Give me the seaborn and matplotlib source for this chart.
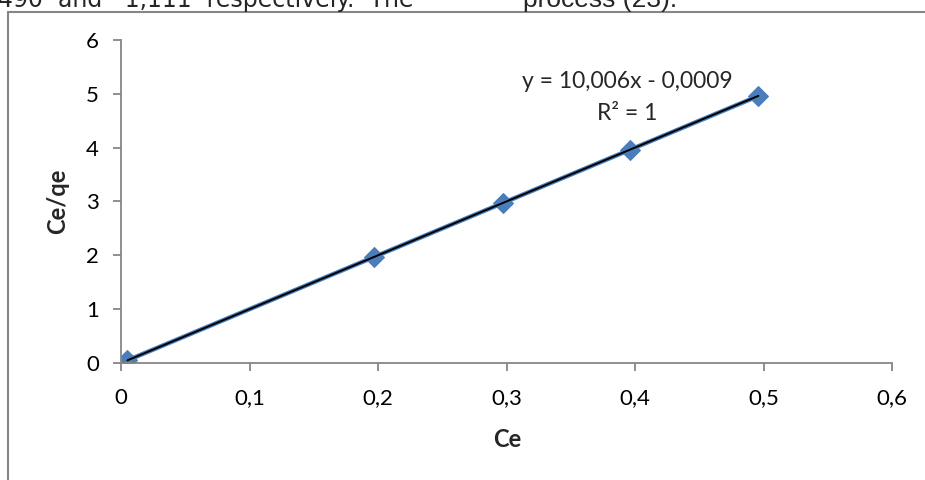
import numpy as np
import pandas as pd
import seaborn as sns
import matplotlib.pyplot as plt
from matplotlib.lines import Line2D

# values
ce = [0.005, 0.197, 0.297, 0.396, 0.496]
ce_qe = [0.049, 1.97, 2.97, 3.96, 4.96]
slope = 10.006
intercept = -0.0009
r_squared = 1
x_ticks = [0, 0.1, 0.2, 0.3, 0.4, 0.5, 0.6]
y_ticks = [0, 1, 2, 3, 4, 5, 6]

sns.set_style('ticks')
plt.rcParams['font.family'] = ['Lato', 'DejaVu Sans']

W, H = 925, 480
fig = plt.figure(figsize=(W / 100, H / 100), dpi=100)
ax = fig.add_axes([121 / W, 1 - 363 / H, 771 / W, 323 / H])

df = pd.DataFrame({'Ce': ce, 'Ce/qe': ce_qe})

# data series: blue line with diamond markers
sns.lineplot(data=df, x='Ce', y='Ce/qe', ax=ax, color='#4a7ebb', linewidth=3.2,
             marker='D', markersize=10.5, markeredgecolor='#4a7ebb', sort=False)

# linear trendline in black
trend_x = np.array([min(ce), max(ce)])
ax.plot(trend_x, slope * trend_x + intercept, color='black', linewidth=1.4)

ax.set_xlim(0, 0.6)
ax.set_ylim(0, 6)
ax.set_xticks(x_ticks)
ax.set_yticks(y_ticks)
ax.set_xticklabels([('%g' % t).replace('.', ',') for t in x_ticks])
ax.set_yticklabels([str(t) for t in y_ticks])

grey = '#868686'
for side in ['top', 'right']:
    ax.spines[side].set_visible(False)
for side in ['left', 'bottom']:
    ax.spines[side].set_color(grey)
    ax.spines[side].set_linewidth(1.3)
ax.tick_params(axis='both', colors=grey, labelcolor='black', length=6, width=1.3,
               labelsize=16)
ax.tick_params(axis='y', pad=10)
ax.tick_params(axis='x', pad=12)

ax.set_xlabel('Ce', fontsize=17, fontweight='bold')
ax.set_ylabel('Ce/qe', fontsize=17, fontweight='bold')
ax.xaxis.set_label_coords((507 - 121) / 771, -(428 - 363) / 323)
ax.yaxis.set_label_coords(-(121 - 69) / 771, (363 - 201) / 323)

eq = 'y = {}x - {}'.format(('%.3f' % slope).replace('.', ','),
                           ('%.4f' % abs(intercept)).replace('.', ','))
fig.text(627 / W, 1 - 88 / H, eq, ha='center', va='baseline', fontsize=16.5)
fig.text(627 / W, 1 - 120 / H, 'R² = {}'.format(r_squared), ha='center',
         va='baseline', fontsize=16.5)

# chart frame, cut off at right and bottom
fig.add_artist(Line2D([8 / W, 8 / W], [0, 1 - 12 / H], color=grey, linewidth=1.5))
fig.add_artist(Line2D([8 / W, 1], [1 - 12 / H, 1 - 12 / H], color=grey, linewidth=1.5))

# surrounding document text, cut by the top edge
fig.text(-2 / W, 1 - 7 / H, '490  and   1,111  respectively.  The', fontsize=17,
         family='DejaVu Sans', va='baseline')
fig.text(523 / W, 1 - 7 / H, 'process (23).', fontsize=19,
         family='Liberation Sans', va='baseline')

fig.savefig('out.png', dpi=100)
